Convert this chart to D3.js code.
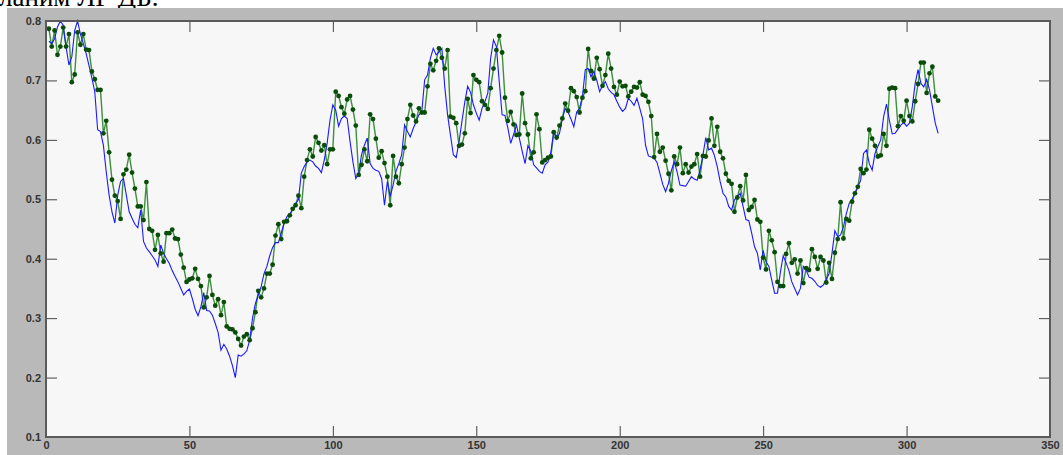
<!DOCTYPE html>
<html lang="en">
<head>
    <meta charset="UTF-8">
    <title>chart</title>
    <script src="https://d3js.org/d3.v7.min.js"></script>
    <style>
        html, body { margin: 0; padding: 0; background: #fff; overflow: hidden; }
        svg { display: block; }
        .tick text { font-family: "Liberation Sans Narrow", "Liberation Sans", Arial, sans-serif; font-weight: bold; font-size: 11px; fill: #333; }
    </style>
</head>
<body>
    <svg id="chart" width="1063" height="455"></svg>
    <script>
        // first step index of both series
        const startStep = 1;

        // blue line (no markers)
        const actual = [
            0.766,0.762,0.770,0.790,0.800,0.793,0.756,0.726,0.740,0.784,0.800,0.778,0.762,0.745,0.725,0.704,0.681,0.617,0.614,0.591,
            0.546,0.507,0.479,0.460,0.507,0.530,0.535,0.507,0.479,0.468,0.458,0.452,0.482,0.429,0.418,0.412,0.405,0.398,0.387,0.423,
            0.409,0.400,0.392,0.380,0.370,0.361,0.350,0.339,0.345,0.349,0.333,0.315,0.304,0.319,0.343,0.313,0.312,0.305,0.291,0.276,
            0.246,0.256,0.248,0.236,0.220,0.200,0.238,0.236,0.240,0.245,0.263,0.300,0.325,0.339,0.353,0.375,0.387,0.405,0.419,0.427,
            0.427,0.443,0.460,0.471,0.476,0.482,0.493,0.499,0.544,0.555,0.563,0.566,0.563,0.556,0.552,0.545,0.566,0.594,0.633,0.659,
            0.650,0.623,0.636,0.640,0.636,0.597,0.563,0.535,0.544,0.575,0.591,0.603,0.560,0.552,0.549,0.547,0.535,0.490,0.530,0.505,
            0.524,0.547,0.560,0.575,0.625,0.614,0.605,0.619,0.630,0.642,0.647,0.701,0.709,0.737,0.754,0.743,0.748,0.754,0.690,0.642,
            0.608,0.575,0.570,0.597,0.631,0.664,0.690,0.680,0.659,0.645,0.633,0.653,0.664,0.678,0.737,0.768,0.757,0.698,0.642,0.641,
            0.620,0.594,0.609,0.625,0.603,0.581,0.560,0.590,0.581,0.558,0.553,0.547,0.544,0.558,0.563,0.579,0.614,0.601,0.611,0.635,
            0.653,0.647,0.635,0.622,0.647,0.653,0.673,0.718,0.720,0.706,0.715,0.700,0.681,0.691,0.698,0.686,0.680,0.676,0.665,0.655,
            0.648,0.653,0.670,0.665,0.658,0.670,0.653,0.635,0.591,0.573,0.571,0.569,0.562,0.544,0.525,0.513,0.527,0.548,0.563,0.546,
            0.524,0.523,0.522,0.530,0.538,0.534,0.532,0.549,0.574,0.604,0.583,0.586,0.574,0.555,0.530,0.510,0.504,0.488,0.482,0.499,
            0.504,0.510,0.488,0.466,0.464,0.443,0.420,0.409,0.381,0.414,0.395,0.387,0.364,0.342,0.342,0.377,0.405,0.393,0.380,0.361,
            0.350,0.339,0.350,0.387,0.381,0.369,0.367,0.362,0.355,0.352,0.356,0.365,0.375,0.409,0.447,0.437,0.440,0.454,0.476,0.493,
            0.500,0.510,0.521,0.532,0.577,0.583,0.560,0.549,0.577,0.589,0.600,0.639,0.660,0.633,0.610,0.611,0.618,0.625,0.629,0.623,
            0.628,0.656,0.695,0.718,0.695,0.689,0.702,0.684,0.656,0.628,0.611
        ];

        // green line with dots
        const forecast = [
            0.787,0.757,0.784,0.743,0.757,0.789,0.757,0.778,0.697,0.710,0.781,0.760,0.778,0.752,0.751,0.715,0.702,0.684,0.684,0.611,
            0.632,0.579,0.533,0.506,0.497,0.467,0.542,0.550,0.575,0.545,0.518,0.488,0.488,0.465,0.529,0.450,0.447,0.415,0.440,0.409,
            0.395,0.443,0.443,0.449,0.434,0.433,0.407,0.385,0.361,0.365,0.367,0.383,0.366,0.354,0.318,0.335,0.371,0.339,0.321,0.332,
            0.305,0.327,0.286,0.282,0.281,0.276,0.265,0.254,0.269,0.273,0.263,0.283,0.310,0.346,0.335,0.350,0.375,0.375,0.390,0.439,
            0.458,0.433,0.462,0.463,0.473,0.484,0.490,0.506,0.485,0.538,0.566,0.584,0.572,0.605,0.595,0.582,0.591,0.559,0.584,0.584,
            0.681,0.674,0.655,0.644,0.668,0.674,0.651,0.624,0.541,0.558,0.584,0.564,0.643,0.635,0.602,0.570,0.581,0.561,0.538,0.490,
            0.573,0.538,0.527,0.559,0.587,0.635,0.659,0.641,0.631,0.653,0.646,0.646,0.690,0.728,0.717,0.733,0.754,0.738,0.720,0.751,
            0.639,0.637,0.628,0.590,0.592,0.611,0.669,0.645,0.709,0.701,0.697,0.665,0.659,0.652,0.687,0.720,0.751,0.775,0.747,0.671,
            0.632,0.647,0.626,0.608,0.609,0.678,0.628,0.609,0.569,0.579,0.643,0.618,0.562,0.566,0.570,0.572,0.613,0.604,0.624,0.636,
            0.661,0.649,0.687,0.682,0.672,0.646,0.671,0.682,0.753,0.716,0.703,0.738,0.719,0.691,0.709,0.745,0.720,0.689,0.676,0.698,
            0.690,0.691,0.673,0.681,0.689,0.688,0.697,0.676,0.674,0.664,0.640,0.571,0.610,0.580,0.587,0.565,0.543,0.515,0.572,0.559,
            0.587,0.544,0.559,0.545,0.555,0.559,0.576,0.538,0.573,0.572,0.599,0.636,0.590,0.622,0.580,0.569,0.543,0.531,0.526,0.479,
            0.503,0.522,0.498,0.541,0.482,0.487,0.499,0.466,0.462,0.402,0.382,0.447,0.431,0.411,0.361,0.354,0.354,0.408,0.426,0.393,
            0.399,0.375,0.397,0.359,0.384,0.381,0.416,0.403,0.383,0.403,0.397,0.360,0.393,0.366,0.410,0.433,0.495,0.434,0.467,0.464,
            0.496,0.510,0.521,0.551,0.544,0.550,0.617,0.602,0.590,0.572,0.574,0.610,0.590,0.686,0.688,0.687,0.623,0.640,0.632,0.666,
            0.640,0.631,0.665,0.694,0.730,0.730,0.679,0.712,0.723,0.673,0.666
        ];

        const xTicks = [0, 50, 100, 150, 200, 250, 300, 350];
        const yTicks = [0.1, 0.2, 0.3, 0.4, 0.5, 0.6, 0.7, 0.8];
        const captionText = "ланим ЛГ ДБ.";

        const svg = d3.select("#chart");

        // caption line above the figure, cut by the top edge as in the source
        svg.append("text")
            .attr("x", -1).attr("y", 6)
            .attr("font-family", "Liberation Serif, DejaVu Serif, serif")
            .attr("font-size", 27)
            .attr("fill", "#000")
            .text(captionText);

        // grey figure window
        svg.append("rect")
            .attr("x", 7).attr("y", 8)
            .attr("width", 1056).attr("height", 447)
            .attr("fill", "#b9b9b9");

        const plot = {left: 46, top: 21, right: 1050, bottom: 437};

        const x = d3.scaleLinear().domain([0, 350]).range([plot.left, plot.right]);
        const y = d3.scaleLinear().domain([0.1, 0.8]).range([plot.bottom, plot.top]);

        svg.append("rect")
            .attr("x", plot.left).attr("y", plot.top)
            .attr("width", plot.right - plot.left).attr("height", plot.bottom - plot.top)
            .attr("fill", "#f7f7f7");

        // axes with inward ticks on all four sides
        function styleAxis(g) {
            g.select(".domain").remove();
            g.selectAll(".tick line").attr("stroke", "#444").attr("stroke-width", 1);
        }
        svg.append("g").attr("transform", `translate(0,${plot.bottom})`)
            .call(d3.axisBottom(x).tickValues(xTicks).tickSize(-11).tickPadding(4).tickFormat(d3.format("d")))
            .call(styleAxis);
        svg.append("g").attr("transform", `translate(0,${plot.top})`)
            .call(d3.axisTop(x).tickValues(xTicks).tickSize(-11).tickFormat(""))
            .call(styleAxis);
        svg.append("g").attr("transform", `translate(${plot.left},0)`)
            .call(d3.axisLeft(y).tickValues(yTicks).tickSize(-11).tickPadding(5).tickFormat(d3.format(".1f")))
            .call(styleAxis);
        svg.append("g").attr("transform", `translate(${plot.right},0)`)
            .call(d3.axisRight(y).tickValues(yTicks).tickSize(-11).tickFormat(""))
            .call(styleAxis);

        const line = d3.line()
            .x((d, i) => x(i + startStep))
            .y(d => y(d));

        svg.append("path")
            .datum(forecast)
            .attr("fill", "none")
            .attr("stroke", "#3d8f3d")
            .attr("stroke-width", 1.4)
            .attr("d", line);

        svg.append("path")
            .datum(actual)
            .attr("fill", "none")
            .attr("stroke", "#1a1aff")
            .attr("stroke-width", 1.1)
            .attr("d", line);

        svg.append("g")
            .selectAll("circle")
            .data(forecast)
            .enter().append("circle")
            .attr("cx", (d, i) => x(i + startStep))
            .attr("cy", d => y(d))
            .attr("r", 2.4)
            .attr("fill", "#0a4d0a");

        // plot frame
        svg.append("rect")
            .attr("x", plot.left).attr("y", plot.top)
            .attr("width", plot.right - plot.left).attr("height", plot.bottom - plot.top)
            .attr("fill", "none")
            .attr("stroke", "#5a5a5a")
            .attr("stroke-width", 2);
    </script>
</body>
</html>
